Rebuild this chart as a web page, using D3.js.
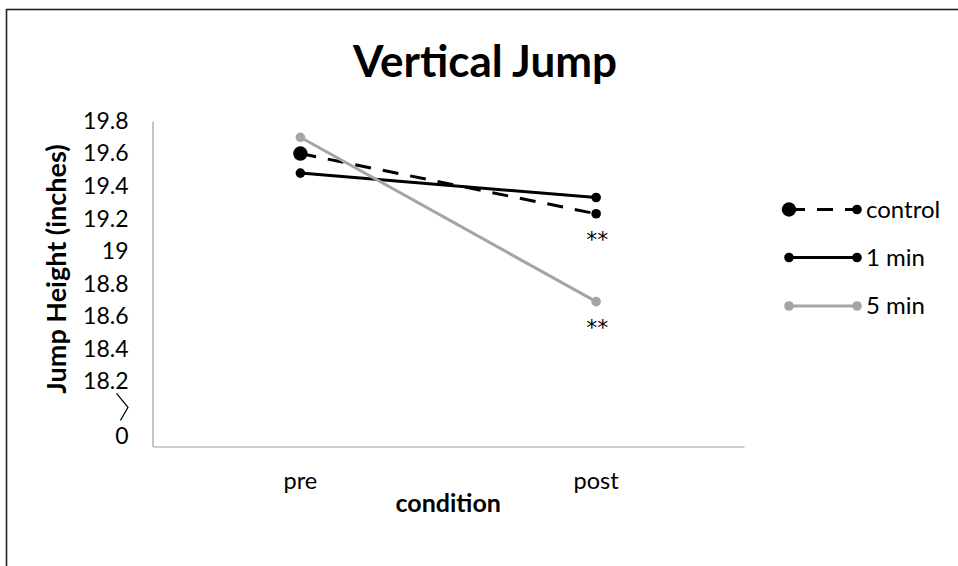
<!DOCTYPE html>
<html>
<head>
<meta charset="utf-8">
<script src="https://cdn.jsdelivr.net/npm/d3@7/dist/d3.min.js"></script>
<style>
  html, body { margin: 0; padding: 0; background: #fff; }
  svg { display: block; }
  text { font-family: Lato, "Open Sans", sans-serif; fill: #000; }
</style>
</head>
<body>
<svg id="chart" width="958" height="566"></svg>
<script>
// ---- data ----
const categories = ["pre", "post"];
const seriesNames = ["control", "1 min", "5 min"];
const controlValues = [19.60, 19.23];
const oneMinValues = [19.48, 19.33];
const fiveMinValues = [19.70, 18.69];
const yTickValues = [18.2, 18.4, 18.6, 18.8, 19.0, 19.2, 19.4, 19.6, 19.8];
const yTickLabels = ["18.2", "18.4", "18.6", "18.8", "19", "19.2", "19.4", "19.6", "19.8"];
const yDomain = [17.8, 19.8];
const brokenAxisLabel = "0";
const significance = ["", "**"]; // per category, for control and 5 min
const titleText = "Vertical Jump";
const yTitle = "Jump Height (inches)";
const xTitle = "condition";

// ---- layout ----
const W = 958, H = 566;
const plot = { left: 152.5, right: 744, top: 121, bottom: 446.5 };
const svg = d3.select("#chart");

const x = d3.scaleBand().domain(categories).range([plot.left, plot.right]).paddingInner(0).paddingOuter(0);
const cx = c => x(c) + x.bandwidth() / 2;
const y = d3.scaleLinear().domain(yDomain).range([plot.bottom, plot.top]);

// chart border (extends beyond the picture on the right and bottom)
svg.append("rect")
  .attr("x", 6.5).attr("y", 9.5).attr("width", W + 20).attr("height", H + 20)
  .attr("fill", "none").attr("stroke", "#222").attr("stroke-width", 1.6);

// title
svg.append("text").attr("x", 485).attr("y", 77).attr("text-anchor", "middle")
  .attr("font-size", 44).attr("font-weight", 700).text(titleText);

// axes
const yAxis = d3.axisLeft(y).tickValues(yTickValues)
  .tickFormat((d, i) => yTickLabels[i]).tickSize(0).tickPadding(24);
const gy = svg.append("g").attr("transform", `translate(${plot.left},0)`).call(yAxis);
gy.select(".domain").attr("stroke", "#a0a0a0").attr("stroke-width", 1.2);
gy.selectAll("text").attr("font-size", 23).attr("font-family", "Lato, 'Open Sans', sans-serif");

const xAxis = d3.axisBottom(x).tickSize(0).tickPadding(26);
const gx = svg.append("g").attr("transform", `translate(0,${plot.bottom})`).call(xAxis);
gx.select(".domain").attr("stroke", "#a0a0a0").attr("stroke-width", 1.2);
gx.selectAll("text").attr("font-size", 23.5).attr("font-family", "Lato, 'Open Sans', sans-serif");

// broken-axis label and symbol
const yBreak = y(yTickValues[0]);
svg.append("text").attr("x", plot.left - 24).attr("y", y(yDomain[0]) - 11).attr("dy", "0.35em")
  .attr("text-anchor", "end").attr("font-size", 23).text(brokenAxisLabel);
svg.append("path")
  .attr("d", `M${plot.left - 36},${yBreak + 12} L${plot.left - 24.5},${yBreak + 26} L${plot.left - 32},${yBreak + 39}`)
  .attr("fill", "none").attr("stroke", "#000").attr("stroke-width", 1.2);

// axis titles
svg.append("text").attr("transform", `translate(66,269) rotate(-90)`).attr("text-anchor", "middle")
  .attr("font-size", 27).attr("font-weight", 700).text(yTitle);
svg.append("text").attr("x", (plot.left + plot.right) / 2).attr("y", 512).attr("text-anchor", "middle")
  .attr("font-size", 25).attr("font-weight", 700).text(xTitle);

// series
const series = [
  { name: seriesNames[0], values: controlValues, color: "#000", dash: "16,12", bigFirst: true },
  { name: seriesNames[1], values: oneMinValues, color: "#000", dash: null, bigFirst: false },
  { name: seriesNames[2], values: fiveMinValues, color: "#a5a5a5", dash: null, bigFirst: false }
];
const line = d3.line().x((d, i) => cx(categories[i])).y(d => y(d));
const rSmall = 4.8, rBig = 7.2;

series.forEach(s => {
  svg.append("path").datum(s.values).attr("d", line)
    .attr("fill", "none").attr("stroke", s.color).attr("stroke-width", 3)
    .attr("stroke-dasharray", s.dash);
  svg.selectAll(null).data(s.values).enter().append("circle")
    .attr("cx", (d, i) => cx(categories[i])).attr("cy", d => y(d))
    .attr("r", (d, i) => (s.bigFirst && i === 0) ? rBig : rSmall)
    .attr("fill", s.color);
});

// significance markers
[series[0], series[2]].forEach(s => {
  s.values.forEach((v, i) => {
    if (!significance[i]) return;
    svg.append("text").attr("x", cx(categories[i]) + 1).attr("y", y(v) + 33)
      .attr("text-anchor", "middle").attr("font-size", 22)
      .style("font-family", "'DejaVu Sans', sans-serif").text(significance[i]);
  });
});

// legend
const legX1 = 789, legX2 = 857, legText = 866;
const legY = [209.5, 257.5, 306];
series.forEach((s, k) => {
  const g = svg.append("g");
  g.append("line").attr("x1", legX1).attr("x2", legX2).attr("y1", legY[k]).attr("y2", legY[k])
    .attr("stroke", s.color).attr("stroke-width", 3).attr("stroke-dasharray", s.dash);
  g.append("circle").attr("cx", legX1).attr("cy", legY[k]).attr("r", s.bigFirst ? rBig : rSmall).attr("fill", s.color);
  g.append("circle").attr("cx", legX2).attr("cy", legY[k]).attr("r", rSmall).attr("fill", s.color);
  g.append("text").attr("x", legText).attr("y", legY[k]).attr("dy", "0.35em")
    .attr("font-size", 24).text(s.name);
});
</script>
</body>
</html>
